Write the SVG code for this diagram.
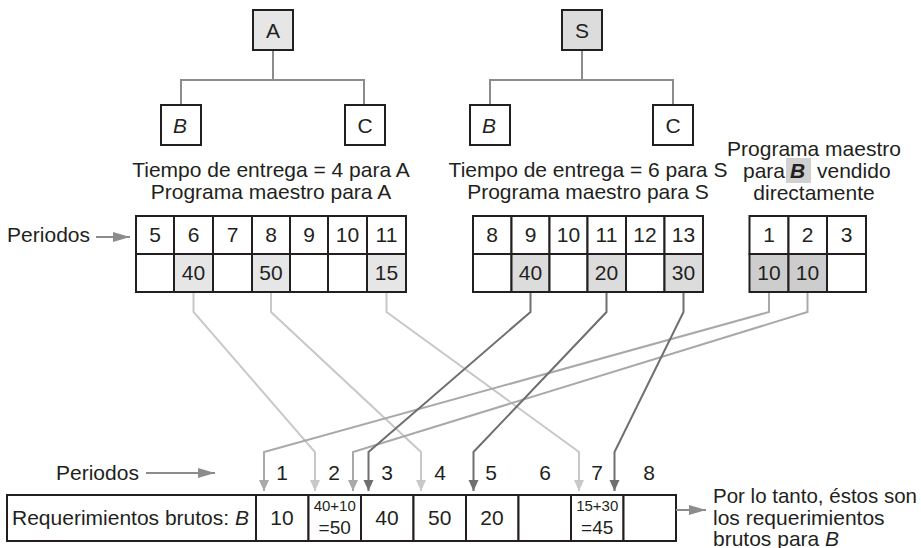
<svg xmlns="http://www.w3.org/2000/svg" width="921" height="548" viewBox="0 0 921 548">
<style>
text{font-family:"Liberation Sans",Arial,sans-serif;font-size:21px;fill:#231f20}
.c{text-anchor:middle}
.e{text-anchor:end}
.box{fill:#fff;stroke:#231f20;stroke-width:2}
.boxA{fill:#e6e6e7;stroke:#231f20;stroke-width:2}
.boxS{fill:#dcdcdc;stroke:#231f20;stroke-width:2}
.tree{fill:none;stroke:#8c8c8c;stroke-width:2}
.cell{fill:#fff;stroke:#231f20;stroke-width:2}
.hl1{fill:#e6e6e7;stroke:#231f20;stroke-width:2}
.hl2{fill:#dcdcdc;stroke:#231f20;stroke-width:2}
.hl3{fill:#cdcdcd;stroke:#231f20;stroke-width:2}
.sm{font-size:15px}
.md19{font-size:19px}
.it{font-style:italic}
.lt{fill:none;stroke:#c8c8c8;stroke-width:2}
.md{fill:none;stroke:#a9a9a9;stroke-width:2}
.dk{fill:none;stroke:#6f6f6f;stroke-width:2}
.ar{fill:none;stroke:#8c8c8c;stroke-width:2}
</style>
<defs>
<marker id="mLt" markerUnits="userSpaceOnUse" markerWidth="12" markerHeight="12" refX="11" refY="5" orient="auto"><path d="M0,0 L11,5 L0,10 Z" fill="#c8c8c8"/></marker>
<marker id="mMd" markerUnits="userSpaceOnUse" markerWidth="12" markerHeight="12" refX="11" refY="5" orient="auto"><path d="M0,0 L11,5 L0,10 Z" fill="#a9a9a9"/></marker>
<marker id="mDk" markerUnits="userSpaceOnUse" markerWidth="12" markerHeight="12" refX="11" refY="5" orient="auto"><path d="M0,0 L11,5 L0,10 Z" fill="#6f6f6f"/></marker>
<marker id="mAr" markerUnits="userSpaceOnUse" markerWidth="18" markerHeight="12" refX="17" refY="5" orient="auto"><path d="M0,0 L17,5 L0,10 Z" fill="#8c8c8c"/></marker>
</defs>

<g id="tree-lines">
<path class="tree" d="M273,50 V80 M181,105 V80 H364 V105"/>
<path class="tree" d="M582,50 V80 M490,105 V80 H673 V105"/>
</g>

<g id="node-A"><rect class="boxA" x="253" y="10" width="40" height="40"/><text class="c" x="273" y="38">A</text></g>
<g id="node-A-B"><rect class="box" x="161" y="105" width="40" height="40"/><text class="c it" x="180" y="133">B</text></g>
<g id="node-A-C"><rect class="box" x="345" y="105" width="40" height="40"/><text class="c" x="365" y="133">C</text></g>
<g id="node-S"><rect class="boxS" x="562" y="10" width="40" height="40"/><text class="c" x="582" y="38">S</text></g>
<g id="node-S-B"><rect class="box" x="470" y="105" width="40" height="40"/><text class="c it" x="489" y="133">B</text></g>
<g id="node-S-C"><rect class="box" x="653" y="105" width="40" height="40"/><text class="c" x="673" y="133">C</text></g>

<g id="caption-A">
<text class="c" x="271" y="177">Tiempo de entrega = 4 para A</text>
<text class="c" x="271" y="199">Programa maestro para A</text>
</g>
<g id="caption-S">
<text class="c" x="588" y="177">Tiempo de entrega = 6 para S</text>
<text class="c" x="588" y="199">Programa maestro para S</text>
</g>
<g id="caption-B">
<text class="c" x="814" y="156">Programa maestro</text>
<rect x="786" y="158" width="25" height="25" fill="#d0d0d0"/>
<text y="178"><tspan x="743">para</tspan><tspan x="790" font-weight="bold" font-style="italic">B</tspan><tspan x="817">vendido</tspan></text>
<text class="c" x="814" y="200">directamente</text>
</g>

<g id="periodos-top">
<text class="e" x="90" y="242">Periodos</text>
<line class="ar" x1="96" y1="237" x2="130" y2="237" marker-end="url(#mAr)"/>
</g>

<g id="table-A">
<rect class="cell" x="136" y="216" width="38" height="38"/><text class="c" x="155" y="242">5</text>
<rect class="cell" x="174" y="216" width="39" height="38"/><text class="c" x="193.5" y="242">6</text>
<rect class="cell" x="213" y="216" width="39" height="38"/><text class="c" x="232.5" y="242">7</text>
<rect class="cell" x="252" y="216" width="38" height="38"/><text class="c" x="271" y="242">8</text>
<rect class="cell" x="290" y="216" width="38" height="38"/><text class="c" x="309" y="242">9</text>
<rect class="cell" x="328" y="216" width="39" height="38"/><text class="c" x="347.5" y="242">10</text>
<rect class="cell" x="367" y="216" width="39" height="38"/><text class="c" x="386.5" y="242">11</text>
<rect class="cell" x="136" y="254" width="38" height="38"/>
<rect class="hl1" x="174" y="254" width="39" height="38"/><text class="c" x="193.5" y="280">40</text>
<rect class="cell" x="213" y="254" width="39" height="38"/>
<rect class="hl1" x="252" y="254" width="38" height="38"/><text class="c" x="271" y="280">50</text>
<rect class="cell" x="290" y="254" width="38" height="38"/>
<rect class="cell" x="328" y="254" width="39" height="38"/>
<rect class="hl1" x="367" y="254" width="39" height="38"/><text class="c" x="386.5" y="280">15</text>
</g>

<g id="table-S">
<rect class="cell" x="473" y="216" width="38.5" height="38"/><text class="c" x="492" y="242">8</text>
<rect class="cell" x="511.5" y="216" width="38" height="38"/><text class="c" x="530.5" y="242">9</text>
<rect class="cell" x="549.5" y="216" width="38" height="38"/><text class="c" x="568.5" y="242">10</text>
<rect class="cell" x="587.5" y="216" width="38.5" height="38"/><text class="c" x="606.5" y="242">11</text>
<rect class="cell" x="626" y="216" width="38.5" height="38"/><text class="c" x="645" y="242">12</text>
<rect class="cell" x="664.5" y="216" width="38.5" height="38"/><text class="c" x="683.5" y="242">13</text>
<rect class="cell" x="473" y="254" width="38.5" height="38"/>
<rect class="hl2" x="511.5" y="254" width="38" height="38"/><text class="c" x="530.5" y="280">40</text>
<rect class="cell" x="549.5" y="254" width="38" height="38"/>
<rect class="hl2" x="587.5" y="254" width="38.5" height="38"/><text class="c" x="606.5" y="280">20</text>
<rect class="cell" x="626" y="254" width="38.5" height="38"/>
<rect class="hl2" x="664.5" y="254" width="38.5" height="38"/><text class="c" x="683.5" y="280">30</text>
</g>

<g id="table-B">
<rect class="cell" x="749.5" y="216" width="39" height="38"/><text class="c" x="769" y="242">1</text>
<rect class="cell" x="788.5" y="216" width="38.5" height="38"/><text class="c" x="807.5" y="242">2</text>
<rect class="cell" x="827" y="216" width="39" height="38"/><text class="c" x="846.5" y="242">3</text>
<rect class="hl3" x="749.5" y="254" width="39" height="38"/><text class="c" x="769" y="280">10</text>
<rect class="hl3" x="788.5" y="254" width="38.5" height="38"/><text class="c" x="807.5" y="280">10</text>
<rect class="cell" x="827" y="254" width="39" height="38"/>
</g>

<g id="connectors">
<path class="lt" d="M193.5,293 V312 L315,452 V491" marker-end="url(#mLt)"/>
<path class="lt" d="M271,293 V312 L421,452 V491" marker-end="url(#mLt)"/>
<path class="lt" d="M386.5,293 V312 L579,452 V491" marker-end="url(#mLt)"/>
<path class="md" d="M769,293 V312 L264,452 V491" marker-end="url(#mMd)"/>
<path class="md" d="M807.5,293 V312 L353,452 V491" marker-end="url(#mMd)"/>
<path class="dk" d="M530.5,293 V312 L368.5,452 V491" marker-end="url(#mDk)"/>
<path class="dk" d="M606.5,293 V312 L473.5,452 V491" marker-end="url(#mDk)"/>
<path class="dk" d="M683.5,293 V312 L614.5,452 V491" marker-end="url(#mDk)"/>
</g>

<g id="periodos-bottom">
<text x="56" y="480">Periodos</text>
<line class="ar" x1="146" y1="473" x2="215" y2="473" marker-end="url(#mAr)"/>
<text class="c" x="282" y="480">1</text>
<text class="c" x="334" y="480">2</text>
<text class="c" x="387" y="480">3</text>
<text class="c" x="440" y="480">4</text>
<text class="c" x="491" y="480">5</text>
<text class="c" x="545" y="480">6</text>
<text class="c" x="597" y="480">7</text>
<text class="c" x="649" y="480">8</text>
</g>

<g id="table-gross">
<rect class="cell" x="7" y="495" width="249" height="46"/>
<text x="12" y="525">Requerimientos brutos: <tspan class="it">B</tspan></text>
<rect class="cell" x="256" y="495" width="52.5" height="46"/><text class="c" x="282" y="525">10</text>
<rect class="cell" x="308.5" y="495" width="52.5" height="46"/><text class="c sm" x="334.7" y="511">40+10</text><text class="c md19" x="334.7" y="534">=50</text>
<rect class="cell" x="361" y="495" width="52.5" height="46"/><text class="c" x="387" y="525">40</text>
<rect class="cell" x="413.5" y="495" width="52.5" height="46"/><text class="c" x="439.7" y="525">50</text>
<rect class="cell" x="466" y="495" width="52.5" height="46"/><text class="c" x="492" y="525">20</text>
<rect class="cell" x="518.5" y="495" width="52.5" height="46"/>
<rect class="cell" x="571" y="495" width="52.5" height="46"/><text class="c sm" x="597.2" y="511">15+30</text><text class="c md19" x="597.2" y="534">=45</text>
<rect class="cell" x="623.5" y="495" width="52.5" height="46"/>
</g>

<g id="note">
<line class="ar" x1="676" y1="510" x2="706" y2="510" marker-end="url(#mAr)"/>
<text x="713" y="503" textLength="204" lengthAdjust="spacingAndGlyphs">Por lo tanto, éstos son</text>
<text x="713" y="525">los requerimientos</text>
<text x="713" y="546">brutos para <tspan class="it">B</tspan></text>
</g>
</svg>
